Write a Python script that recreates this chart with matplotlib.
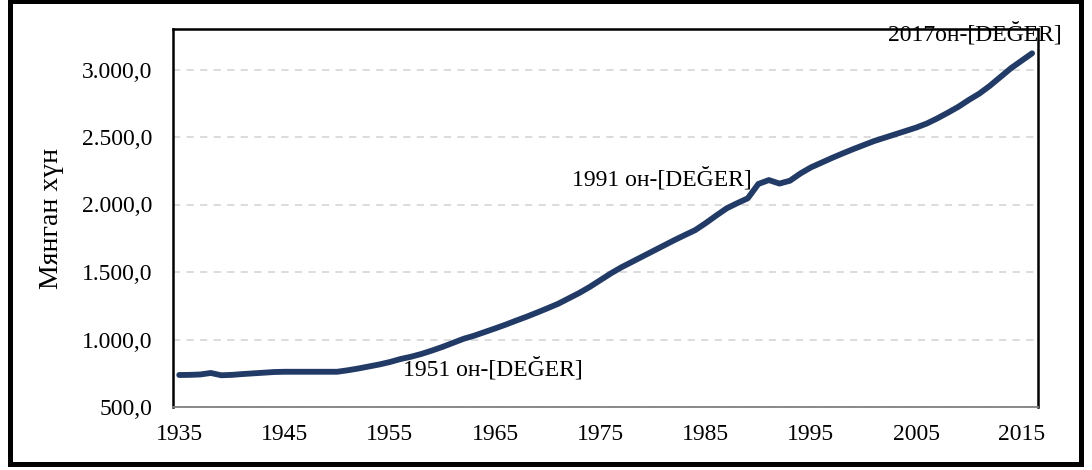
import matplotlib.pyplot as plt
import matplotlib.patches as patches
from matplotlib.ticker import FuncFormatter
import numpy as np

# population of Mongolia, thousand people
years = np.arange(1935, 2017)
population = [
    737, 738, 741, 752, 735, 738, 744, 749, 754, 759,      # 1935-1944
    761, 761, 761, 761, 761, 761, 772, 785, 800, 815,      # 1945-1954
    833, 855, 872, 893, 918, 945, 975, 1005, 1028, 1055,   # 1955-1964
    1082, 1110, 1140, 1169, 1200, 1232, 1265, 1305, 1345, 1390,  # 1965-1974
    1440, 1490, 1535, 1575, 1615, 1655, 1695, 1735, 1773, 1810,  # 1975-1984
    1862, 1918, 1972, 2010, 2046, 2152, 2181, 2155, 2176, 2230,  # 1985-1994
    2275, 2310, 2345, 2378, 2410, 2440, 2470, 2495, 2520, 2545,  # 1995-2004
    2570, 2600, 2638, 2680, 2724, 2775, 2822, 2880, 2945, 3010,  # 2005-2014
    3065, 3120,                                            # 2015-2016
]
ylabel = 'Мянган хүн'
labels = {1951: '1951 он-[DEĞER]', 1991: '1991 он-[DEĞER]', 2016: '2017он-[DEĞER]'}

plt.rcParams['font.family'] = ['Liberation Serif', 'DejaVu Serif']
FS = 17

W, H = 1092, 470
fig = plt.figure(figsize=(W / 100, H / 100), dpi=100)
ax = fig.add_axes([173 / W, 1 - 407 / H, (1038 - 173) / W, (407 - 29) / H])

line_color = '#213a66'
ax.plot(years, population, color=line_color, lw=4.2,
        solid_capstyle='round', solid_joinstyle='round', zorder=3)

ax.set_xlim(1934.41, 2016.56)
ax.set_ylim(500, 3300)
ax.set_xticks(np.arange(1935, 2016, 10))
ax.set_yticks(np.arange(500, 3001, 500))
fmt = lambda v, p: f'{v:,.1f}'.replace(',', 'X').replace('.', ',').replace('X', '.')
ax.yaxis.set_major_formatter(FuncFormatter(fmt))
ax.tick_params(axis='both', length=0, labelsize=FS)
ax.tick_params(axis='y', pad=15)
ax.tick_params(axis='x', pad=12)

ax.grid(axis='y', color='#d9d9d9', lw=1.3, linestyle=(0, (4, 3.5)))
ax.set_axisbelow(True)
for s in ['left', 'top', 'right']:
    ax.spines[s].set_color('black')
    ax.spines[s].set_linewidth(1.8)
ax.spines['bottom'].set_color('#808080')
ax.spines['bottom'].set_linewidth(1.3)

# data labels
pop = dict(zip(years, population))
ax.annotate(labels[1951], xy=(1951, pop[1951]), xytext=(40, 1), textcoords='offset points',
            ha='left', va='center', fontsize=FS)
ax.annotate(labels[1991], xy=(1991, pop[1991]), xytext=(-12, 1), textcoords='offset points',
            ha='right', va='center', fontsize=FS)
ax.annotate(labels[2016], xy=(2016, pop[2016]), xytext=(-41, 14), textcoords='offset points',
            ha='center', va='center', fontsize=FS, annotation_clip=False)

fig.text(52 / W, 1 - 218 / H, ylabel, rotation=90, ha='center', va='center', fontsize=20)

# outer frame
fig.patches.append(patches.Rectangle((9.5 / W, 1 - 464 / H), (1080.5 - 9.5) / W, (464 - 1) / H,
                                     transform=fig.transFigure, fill=False,
                                     edgecolor='black', lw=3.6))

fig.savefig('out.png', dpi=100)
